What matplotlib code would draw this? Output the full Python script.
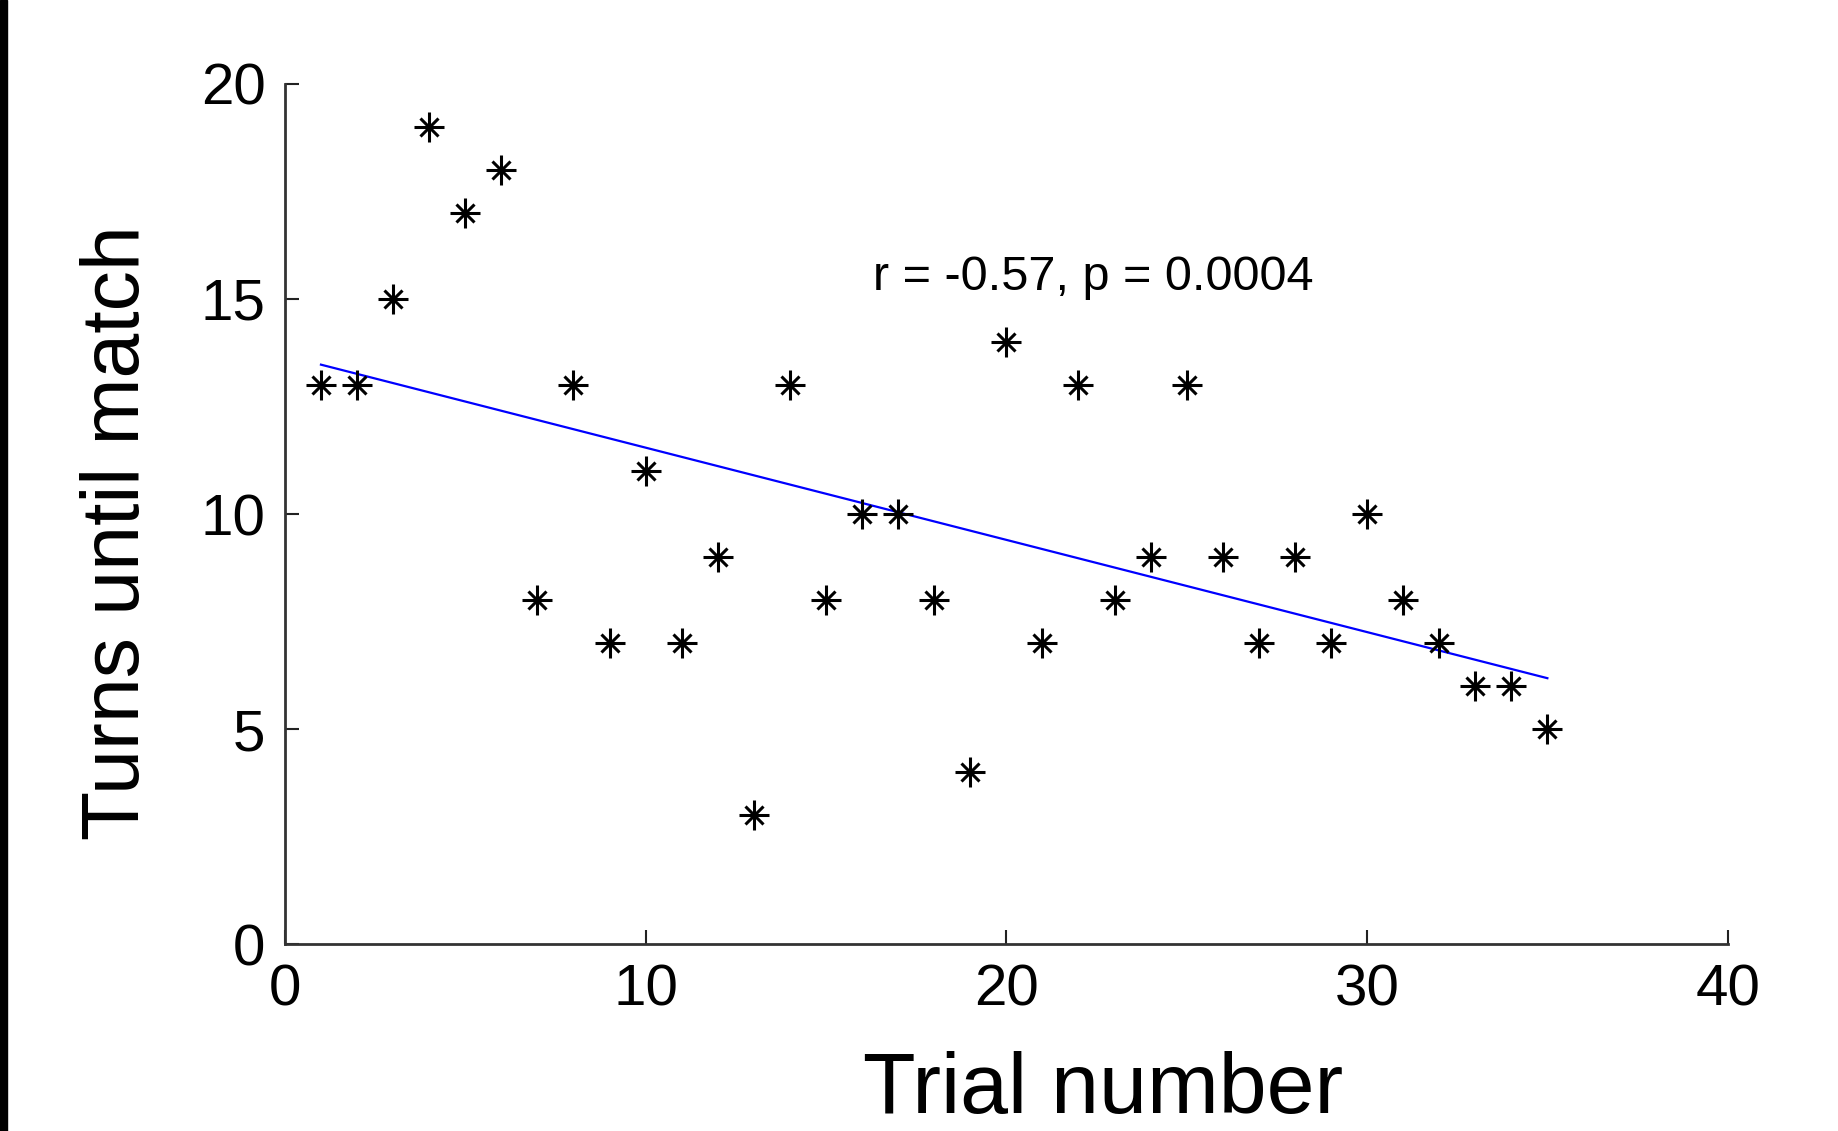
import matplotlib.pyplot as plt
import matplotlib.patches as patches
import numpy as np

# data
trial = list(range(1, 36))
turns = [13, 13, 15, 19, 17, 18, 8, 13, 7, 11,
         7, 9, 3, 13, 8, 10, 10, 8, 4, 14,
         7, 13, 8, 9, 13, 9, 7, 9, 7, 10,
         8, 7, 6, 6, 5]
stat_text = "r = -0.57, p = 0.0004"
x_ticks = [0, 10, 20, 30, 40]
y_ticks = [0, 5, 10, 15, 20]

plt.rcParams['font.family'] = ['Liberation Sans', 'DejaVu Sans']

fig = plt.figure(figsize=(18.38, 11.31), dpi=100)
ax = fig.add_axes([0.155, 0.165, 0.785, 0.761])

# black strip on the left edge
fig.patches.append(patches.Rectangle((0, 0), 7 / 1838, 1, transform=fig.transFigure,
                                     color='black', zorder=10))

# linear fit
coef = np.polyfit(trial, turns, 1)
xfit = np.array([trial[0], trial[-1]])
ax.plot(xfit, np.polyval(coef, xfit), color='#0000ff', linewidth=1.6)

# matlab-style asterisk markers
ax.plot(trial, turns, linestyle='none', marker='+', markersize=22,
        markeredgewidth=2.2, color='black')
ax.plot(trial, turns, linestyle='none', marker='x', markersize=13,
        markeredgewidth=2.2, color='black')

ax.text(16.3, 15.5, stat_text, fontsize=35, va='center', ha='left')

ax.set_xlim(0, 40)
ax.set_ylim(0, 20)
ax.set_xticks(x_ticks)
ax.set_yticks(y_ticks)
ax.tick_params(direction='in', length=10, width=1.5, labelsize=42, pad=14,
               colors='#222222', labelcolor='black')

for side in ['top', 'right']:
    ax.spines[side].set_visible(False)
for side in ['left', 'bottom']:
    ax.spines[side].set_linewidth(2)
    ax.spines[side].set_color('#333333')

ax.set_xlabel("Trial number", fontsize=62, va='center')
ax.xaxis.set_label_coords(0.567, -0.17)
ax.set_ylabel("Turns until match", fontsize=58, va='center')
ax.yaxis.set_label_coords(-0.116, 0.478)

plt.savefig("out.png", dpi=100)
